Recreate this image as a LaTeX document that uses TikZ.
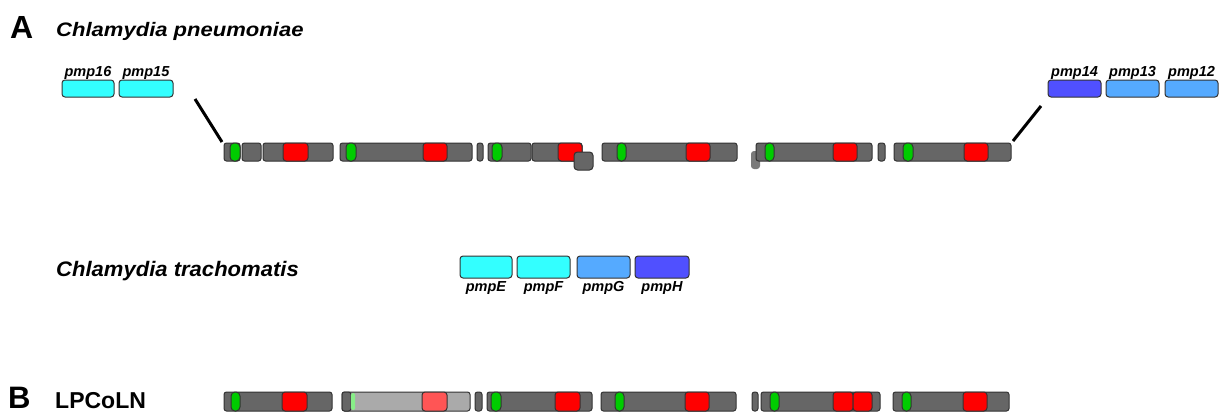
\documentclass[tikz,border=0pt]{standalone}
\usepackage{fontspec}
\setmainfont{Liberation Sans}
\usepackage{graphicx}
\usetikzlibrary{calc}
\definecolor{segfill}{HTML}{666666}
\definecolor{segdraw}{HTML}{333333}
\definecolor{grn}{HTML}{00CC00}
\definecolor{cyn}{HTML}{33FFFF}
\definecolor{lblu}{HTML}{55AAFF}
\definecolor{dblu}{HTML}{5050FF}
\definecolor{lgray}{HTML}{AAAAAA}
\definecolor{lred}{HTML}{FF5555}
\definecolor{lgrn}{HTML}{88EE88}
\definecolor{bumpc}{HTML}{7A7A7A}
\newcommand\bx[6]{\node[#1, minimum width={(#5-#3)*1pt}, minimum height={(#6-#4)*1pt}] (#2) at (#3,#4) {};}
\begin{document}
\begin{tikzpicture}[x=1pt,y=-1pt,
  base/.style={draw=segdraw, line width=1pt, inner sep=0pt, outer sep=0pt, anchor=north west, rounded corners=2.5pt},
  segbox/.style={base, fill=segfill},
  litebox/.style={base, fill=lgray},
  grnbox/.style={base, fill=grn, rounded corners=4pt},
  lgrnbox/.style={base, fill=lgrn, draw=none, rounded corners=1.5pt},
  redbox/.style={base, fill=red, rounded corners=3pt},
  lredbox/.style={base, fill=lred, rounded corners=3pt},
  bumpbox/.style={base, fill=bumpc, draw=none, rounded corners=3pt},
  genebox/.style={base, rounded corners=3pt},
  lbl/.style={inner sep=0.5pt, font=\fontsize{14.5}{15}\selectfont\bfseries\itshape},
  title/.style={inner sep=0pt, anchor=base west, font=\fontsize{19.5}{20}\selectfont\bfseries\itshape},
  panel/.style={inner sep=0pt, anchor=base west, font=\fontsize{31}{31}\selectfont\bfseries},
  conn/.style={line width=3pt, black}
]
\useasboundingbox (0,0) rectangle (1225,412);

% ---- headings
\node[panel, font=\fontsize{32}{32}\selectfont\bfseries] (pA) at (10,38) {A};
\node[title] (tA) at (56,37) {\scalebox{1.13}[1]{Chlamydia pneumoniae}};
\node[title, font=\fontsize{21}{21}\selectfont\bfseries\itshape] (tC) at (56,276) {\scalebox{1.05}[1]{Chlamydia trachomatis}};
\node[panel] (pB) at (8,408) {B};
\node[inner sep=0pt, anchor=base west, font=\fontsize{23}{23}\selectfont\bfseries] (tB) at (55,408) {LPCoLN};

% ---- top pmp genes
\bx{genebox, fill=cyn}{pmp16}{62}{80}{114}{97}
\bx{genebox, fill=cyn}{pmp15}{119}{80}{173}{97}
\bx{genebox, fill=dblu}{pmp14}{1048}{80}{1101}{97}
\bx{genebox, fill=lblu}{pmp13}{1106}{80}{1159}{97}
\bx{genebox, fill=lblu}{pmp12}{1165}{80}{1218}{97}
\node[lbl, anchor=south] (l16) at (pmp16.north) {pmp16};
\node[lbl, anchor=south] (l15) at (pmp15.north) {pmp15};
\node[lbl, anchor=south] (l14) at (pmp14.north) {pmp14};
\node[lbl, anchor=south] (l13) at (pmp13.north) {pmp13};
\node[lbl, anchor=south] (l12) at (pmp12.north) {pmp12};

% ---- C. trachomatis genes
\bx{genebox, fill=cyn}{pmpE}{460}{256}{512}{278}
\bx{genebox, fill=cyn}{pmpF}{517}{256}{570}{278}
\bx{genebox, fill=lblu}{pmpG}{577}{256}{630}{278}
\bx{genebox, fill=dblu}{pmpH}{635}{256}{689}{278}
\node[lbl, anchor=north, inner sep=3pt] (lE) at (pmpE.south) {pmpE};
\node[lbl, anchor=north, inner sep=3pt] (lF) at (pmpF.south) {pmpF};
\node[lbl, anchor=north, inner sep=3pt] (lG) at (pmpG.south) {pmpG};
\node[lbl, anchor=north, inner sep=3pt] (lH) at (pmpH.south) {pmpH};

% ---- C. pneumoniae locus (row A)
\bx{segbox}{a1}{224}{143}{240}{161}
\bx{grnbox}{a1g}{230}{143}{240}{161}
\bx{segbox}{a2}{242}{143}{261}{161}
\bx{segbox}{a3}{263}{143}{333}{161}
\bx{redbox}{a3r}{283}{143}{308}{161}
\bx{segbox}{a4}{340}{143}{472}{161}
\bx{grnbox}{a4g}{346}{143}{356}{161}
\bx{redbox}{a4r}{423}{143}{447}{161}
\bx{segbox, rounded corners=2.5pt}{a5}{477}{143}{483}{161}
\bx{segbox}{a6}{488}{143}{531}{161}
\bx{grnbox}{a6g}{492}{143}{502}{161}
\bx{segbox}{a7}{532}{143}{582}{161}
\bx{redbox}{a7r}{558}{143}{582}{161}
\bx{segbox, rounded corners=3.5pt}{a8}{574}{152}{593}{170}
\bx{segbox}{a9}{602}{143}{737}{161}
\bx{grnbox}{a9g}{617}{143}{626}{161}
\bx{redbox}{a9r}{686}{143}{710}{161}
\bx{bumpbox}{a10}{751}{151}{760}{169}
\bx{segbox}{a11}{756}{143}{872}{161}
\bx{grnbox}{a11g}{765}{143}{774}{161}
\bx{redbox}{a11r}{833}{143}{857}{161}
\bx{segbox}{a12}{878}{143}{885}{161}
\bx{segbox}{a13}{894}{143}{1011}{161}
\bx{grnbox}{a13g}{903}{143}{913}{161}
\bx{redbox}{a13r}{964}{143}{988}{161}

% ---- connectors
\coordinate (cl) at ($(pmp15.south east)+(22,2)$);
\coordinate (cr) at ($(pmp14.south west)+(-7,9)$);
\draw[conn] (cl) -- ($(a1.north west)+(-2,-1)$);
\draw[conn] (cr) -- ($(a13.north east)+(2,-2)$);

% ---- LPCoLN locus (row B)
\bx{segbox}{b1}{224}{392}{332}{411}
\bx{grnbox}{b1g}{231}{392}{240}{411}
\bx{redbox}{b1r}{282}{392}{307}{411}
\bx{litebox}{b2}{342}{392}{470}{411}
\bx{segbox}{b2d}{342}{392}{351}{411}
\bx{lgrnbox}{b2g}{351}{393}{355}{410}
\bx{lredbox}{b2r}{422}{392}{447}{411}
\bx{segbox}{b3}{475}{392}{482}{411}
\bx{segbox}{b4}{487}{392}{592}{411}
\bx{grnbox}{b4g}{491}{392}{501}{411}
\bx{redbox}{b4r}{555}{392}{580}{411}
\bx{segbox}{b5}{601}{392}{736}{411}
\bx{grnbox}{b5g}{615}{392}{624}{411}
\bx{redbox}{b5r}{685}{392}{709}{411}
\bx{segbox}{b6}{752}{392}{758}{411}
\bx{segbox}{b7}{761}{392}{880}{411}
\bx{grnbox}{b7g}{770}{392}{779}{411}
\bx{redbox}{b7r1}{833}{392}{853}{411}
\bx{redbox}{b7r2}{853}{392}{872}{411}
\bx{segbox}{b8}{893}{392}{1009}{411}
\bx{grnbox}{b8g}{902}{392}{911}{411}
\bx{redbox}{b8r}{963}{392}{987}{411}
\end{tikzpicture}
\end{document}
